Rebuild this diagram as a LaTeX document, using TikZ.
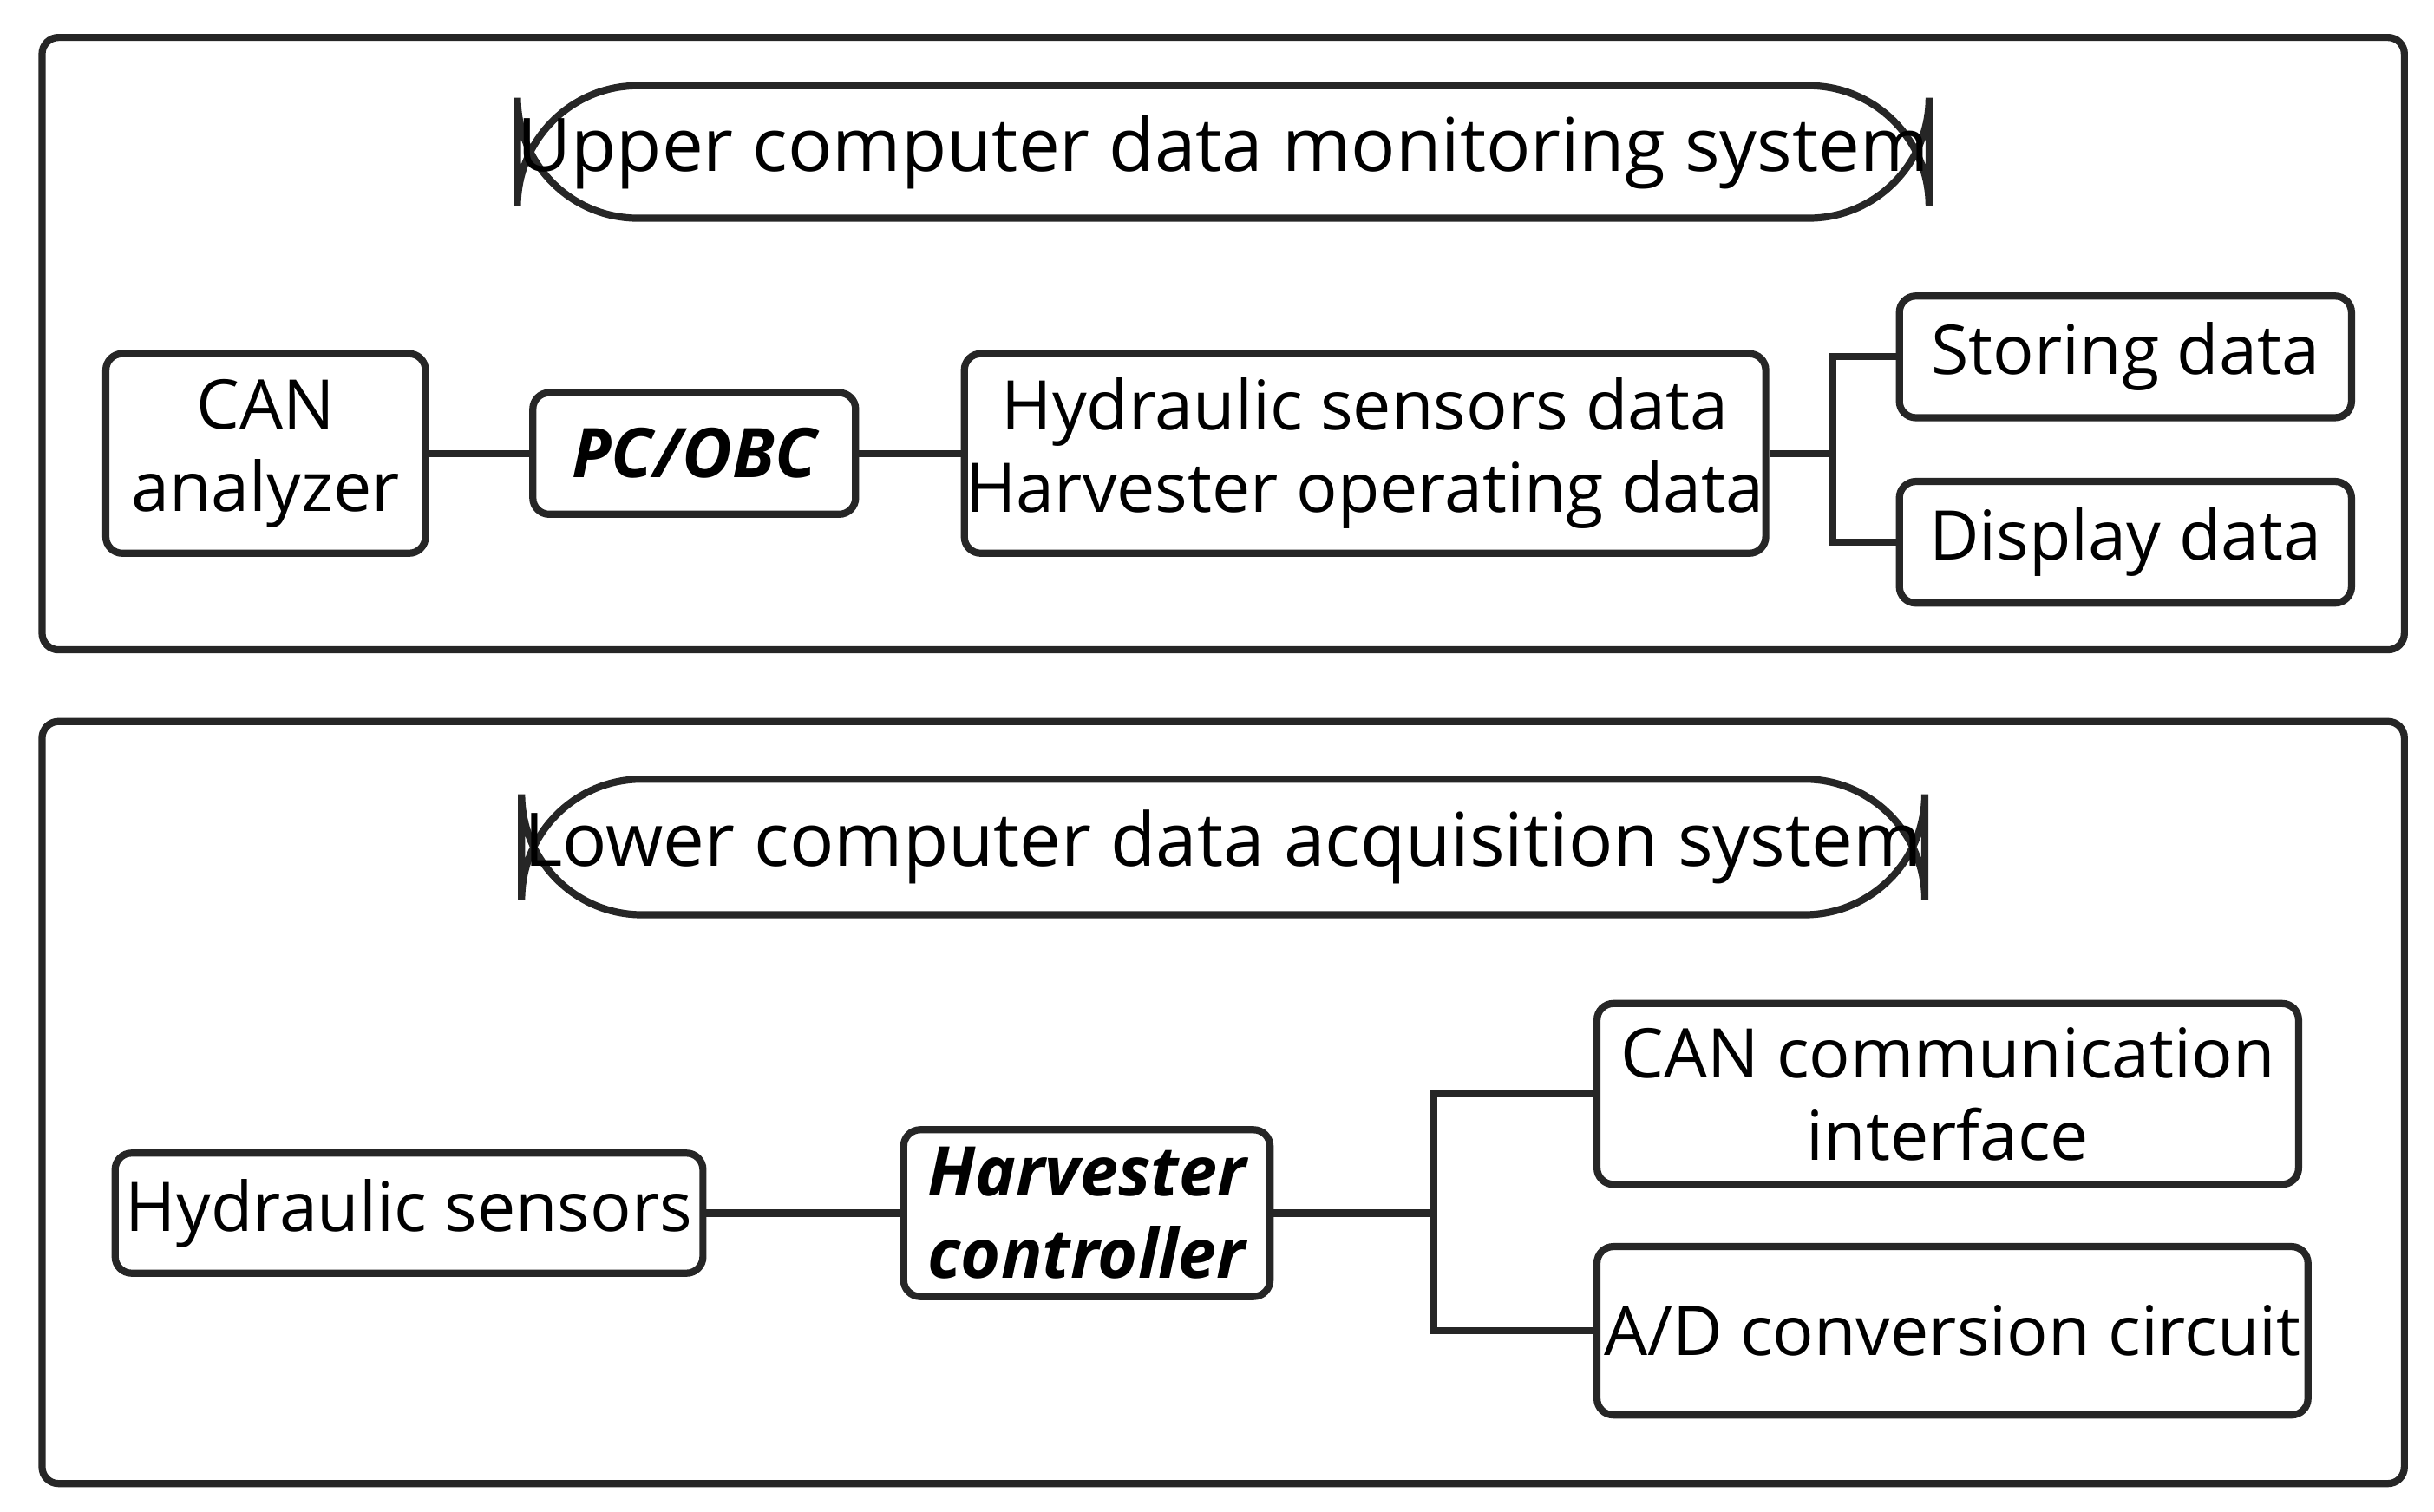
\documentclass[tikz,border=0pt]{standalone}
\usepackage{fontspec}
\setmainfont{Open Sans}
\begin{document}
\begin{tikzpicture}[x=0.01cm,y=-0.01cm,
  box/.style={draw=black!85,line width=1.3pt,rounded corners=3pt,align=center,inner sep=0pt,font=\fontsize{12.5}{15}\selectfont},
  ttl/.style={draw=black!85,line width=1.3pt,rounded corners=22pt,align=center,inner sep=0pt,font=\fontsize{13.5}{16}\selectfont},
  outer/.style={draw=black!85,line width=1.3pt,rounded corners=3pt},
  ln/.style={draw=black!85,line width=1.3pt}]
\useasboundingbox (0,0) rectangle (1562,970);
\draw[outer] (27,24) rectangle (1543,417);
\draw[outer] (27,463) rectangle (1543,952);
\node[ttl,minimum width=9cm,minimum height=0.85cm] (t1) at (785,97.5) {Upper computer data monitoring system};
\node[ttl,minimum width=9cm,minimum height=0.87cm] (t2) at (785,543.5) {Lower computer data acquisition system};
\node[box,minimum width=2.05cm,minimum height=1.28cm] (can) at (170.5,291) {CAN\\analyzer};
\node[box,minimum width=2.07cm,minimum height=0.78cm,font=\fontsize{12.5}{15}\selectfont\bfseries\itshape] (pc) at (445.5,291) {PC/OBC};
\node[box,minimum width=5.14cm,minimum height=1.28cm] (hd) at (876,291) {Hydraulic sensors data\\Harvester operating data};
\node[box,minimum width=2.9cm,minimum height=0.78cm] (st) at (1364,229) {Storing data};
\node[box,minimum width=2.9cm,minimum height=0.78cm] (dd) at (1364,348) {Display data};
\coordinate (j1) at (1176,291);
\draw[ln] (can) -- (pc);
\draw[ln] (pc) -- (hd);
\draw[ln] (hd) -- (j1);
\draw[ln] (j1) |- (st.west);
\draw[ln] (j1) |- (dd.west);
\node[box,minimum width=3.77cm,minimum height=0.77cm] (hs) at (262.5,778.5) {Hydraulic sensors};
\node[box,minimum width=2.35cm,minimum height=1.07cm,font=\fontsize{12.5}{15}\selectfont\bfseries\itshape] (hc) at (697.5,778.5) {Harvester\\controller};
\node[box,minimum width=4.5cm,minimum height=1.16cm] (cc) at (1250,702) {CAN communication\\interface};
\node[box,minimum width=4.56cm,minimum height=1.08cm] (ad) at (1253,854) {A/D conversion circuit};
\coordinate (j2) at (920,778.5);
\draw[ln] (hs) -- (hc);
\draw[ln] (hc) -- (j2);
\draw[ln] (j2) |- (cc.west);
\draw[ln] (j2) |- (ad.west);
\end{tikzpicture}
\end{document}
